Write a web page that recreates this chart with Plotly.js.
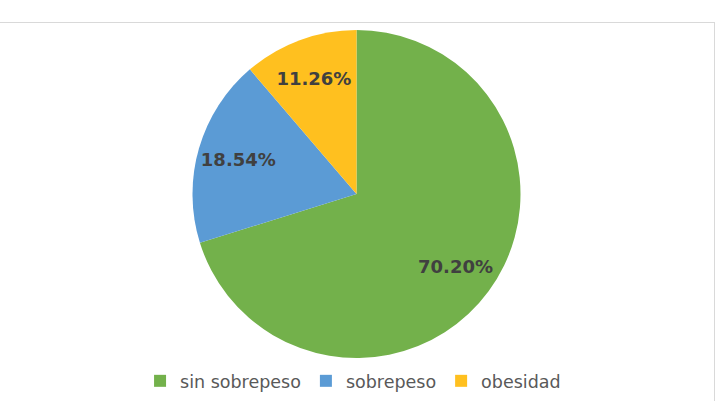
<!DOCTYPE html>
<html>
<head>
<meta charset="utf-8">
<script src="https://cdn.plot.ly/plotly-3.0.1.min.js"></script>
<style>
html,body{margin:0;padding:0;background:#fff;}
#wrap{position:relative;width:722px;height:401px;overflow:hidden;}
#chart{position:absolute;left:0;top:0;width:722px;height:401px;}
#frame{position:absolute;left:-2px;top:22px;width:716px;height:400px;border-top:1px solid #d9d9d9;border-right:1px solid #d9d9d9;pointer-events:none;}
</style>
</head>
<body>
<div id="wrap"><div id="chart"></div><div id="frame"></div></div>
<script>
const categories = ['sin sobrepeso', 'sobrepeso', 'obesidad'];
const values = [70.20, 18.54, 11.26];
const colors = ['#73B14B', '#5B9BD5', '#FFC01F'];

const domain = {x: [192/722, 521/722], y: [43/401, 371/401]};

const pie = {
  type: 'pie',
  labels: categories,
  values: values,
  sort: false,
  direction: 'clockwise',
  rotation: 0,
  marker: {colors: colors, line: {width: 0}},
  textinfo: 'none',
  hoverinfo: 'none',
  domain: domain
};

const labelsRing = {
  type: 'pie',
  labels: categories,
  values: values,
  sort: false,
  direction: 'clockwise',
  rotation: 0,
  hole: 0.5,
  showlegend: false,
  marker: {colors: ['rgba(0,0,0,0)', 'rgba(0,0,0,0)', 'rgba(0,0,0,0)'], line: {width: 0}},
  texttemplate: '%{percent:.2%}',
  textposition: 'inside',
  insidetextorientation: 'horizontal',
  textfont: {family: 'DejaVu Sans', size: 18, color: '#404040', weight: 'bold'},
  hoverinfo: 'none',
  domain: domain
};

const layout = {
  width: 722, height: 401,
  margin: {l: 0, r: 0, t: 0, b: 0},
  paper_bgcolor: '#ffffff',
  showlegend: true,
  legend: {
    orientation: 'h', x: 0.489, xanchor: 'center', y: 0.05, yanchor: 'middle',
    font: {family: 'DejaVu Sans', size: 17.5, color: '#595959'},
    itemwidth: 30, tracegroupgap: 0
  }
};

Plotly.newPlot('chart', [pie, labelsRing], layout, {staticPlot: true});
</script>
</body>
</html>
